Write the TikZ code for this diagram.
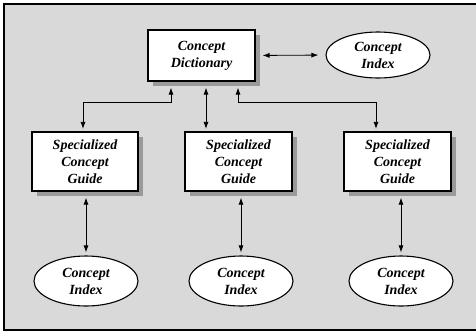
\documentclass[tikz,border=0pt]{standalone}
\usepackage{fontspec}
\setmainfont{Liberation Serif}
\usetikzlibrary{arrows.meta,shadows,shapes.geometric}
\definecolor{bggray}{HTML}{D9D9D9}
\definecolor{shadowgray}{HTML}{9A9A9A}
\begin{document}
\begin{tikzpicture}[x=1pt,y=-1pt,
  lbl/.style={font=\fontsize{14}{17}\selectfont\bfseries\itshape, align=center, inner sep=0pt},
  boxnode/.style={lbl, draw=black, line width=1.2pt, fill=white, rectangle,
     general shadow={fill=shadowgray, shadow xshift=5pt, shadow yshift=-5pt}},
  ellnode/.style={lbl, draw=black, line width=1.1pt, fill=white, ellipse,
     minimum width=104pt, minimum height=46pt},
  conn/.style={line width=0.8pt, {Latex[length=7pt,width=5pt]}-{Latex[length=7pt,width=5pt]}}
]
\useasboundingbox (0,0) rectangle (476,333);
\fill[bggray] (4,4) rectangle (482,330);
\draw[line width=2pt] (4,330) -- (4,4) -- (482,4);
\draw[line width=2pt] (3,330) -- (482,330);

\node[boxnode, minimum width=107pt, minimum height=51pt] (dict) at (201.5,55.5) {Concept\\Dictionary};
\node[ellnode] (tidx) at (378,55) {Concept\\Index};

\node[boxnode, minimum width=106pt, minimum height=59pt] (g1) at (85,161.5) {Specialized\\Concept\\Guide};
\node[boxnode, minimum width=107pt, minimum height=59pt] (g2) at (238.5,161.5) {Specialized\\Concept\\Guide};
\node[boxnode, minimum width=107pt, minimum height=59pt] (g3) at (397.5,161.5) {Specialized\\Concept\\Guide};

\node[ellnode, minimum height=50pt] (i1) at (86,281) {Concept\\Index};
\node[ellnode, minimum height=50pt] (i2) at (241,281) {Concept\\Index};
\node[ellnode, minimum height=50pt] (i3) at (401,281) {Concept\\Index};

\draw[conn, shorten <=7pt, shorten >=7pt] (dict.east) -- (tidx.west);

\coordinate (dl) at ([xshift=-30.5pt,yshift=-6pt]dict.south);
\coordinate (dm) at ([xshift=4.5pt,yshift=-6pt]dict.south);
\coordinate (dr) at ([xshift=36.5pt,yshift=-6pt]dict.south);
\coordinate (t1) at ([xshift=-2pt,yshift=2.5pt]g1.north);
\coordinate (t2) at (dm |- t1);
\coordinate (t3) at ([xshift=-21.5pt,yshift=2.5pt]g3.north);

\draw[conn] (t1) -- (t1 |- 0,102) -| (dl);
\draw[conn] (dm) -- (t2);
\draw[conn] (t3) -- (t3 |- 0,102) -| (dr);

\draw[conn] ([yshift=-6pt]g1.south -| i1) -- ([yshift=3pt]i1.north);
\draw[conn] ([yshift=-6pt]g2.south -| i2) -- ([yshift=3pt]i2.north);
\draw[conn] ([yshift=-6pt]g3.south -| i3) -- ([yshift=3pt]i3.north);
\end{tikzpicture}
\end{document}
